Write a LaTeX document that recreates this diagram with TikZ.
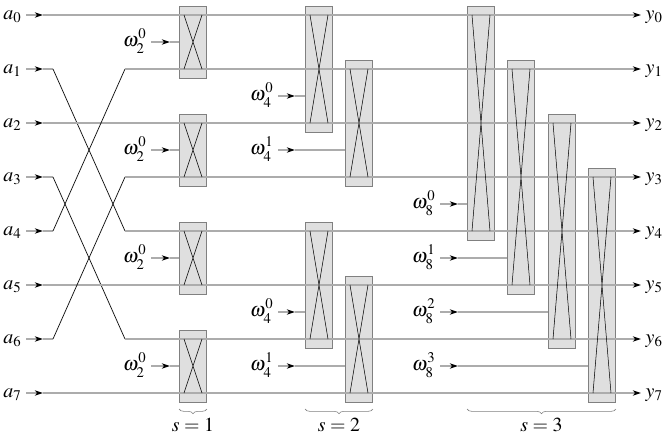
\documentclass[tikz,border=0pt]{standalone}
\usepackage{mathptmx}
\usetikzlibrary{arrows.meta,decorations.pathreplacing,fit}

\tikzset{
  wire/.style={gray!65, line width=0.9pt},
  tip/.style={-{Stealth[black,length=7pt,width=4.5pt,inset=2pt]}},
  bfly/.style={draw=gray, fill=gray!25, line width=0.7pt, inner sep=0pt},
  swap/.style={black, line width=0.45pt},
  perm/.style={black, line width=0.6pt},
  lbl/.style={font=\fontsize{17}{20}\selectfont, inner sep=0pt, outer sep=4pt, text height=8pt, text depth=0pt},
  stage/.style={gray, line width=0.5pt, decorate, decoration={brace, mirror, amplitude=4pt}},
}

% twiddle with a little air between the indices
\newcommand\twid[2]{\omega^{\raisebox{1.2pt}{$\scriptstyle #2$}}_{\raisebox{-1.2pt}{$\scriptstyle #1$}}}

% name / centre x / top row / bottom row
\def\bflylist{b10/193/0/1, b11/193/2/3, b12/193/4/5, b13/193/6/7,
  b20/319/0/2, b21/359/1/3, b22/319/4/6, b23/359/5/7,
  b30/481/0/4, b31/521/1/5, b32/562/2/6, b33/602/3/7}

\begin{document}
\begin{tikzpicture}[x=0.03cm, y=-0.03cm]
\useasboundingbox (0,0) rectangle (669,439);

% rows
\foreach \i in {0,...,7} {
  \pgfmathsetmacro\ry{15+54*\i}
  \coordinate (p\i) at (43,\ry);
  \coordinate (q\i) at (53,\ry);
  \coordinate (u\i) at (125,\ry);
  \node[lbl, anchor=east] (a\i) at (26,\ry) {$a_{\i}$};
  \node[lbl, anchor=west] (y\i) at (641,\ry) {$y_{\i}$};
}

% butterfly boxes
\foreach \n/\cx/\t/\b in \bflylist {
  \pgfmathsetmacro\ty{15+54*\t}
  \pgfmathsetmacro\by{15+54*\b}
  \node[bfly, fit={(\cx-13.5,\ty-9) (\cx+13.5,\by+9)}] (\n) {};
}

% wires, bit reversal in front
\foreach \i/\j in {0/0,1/4,2/2,3/6,4/1,5/5,6/3,7/7} {
  \draw[wire,tip] (a\i) -- (p\i);
  \draw[wire] (p\i) -- (q\i);
  \ifnum\i=\j \draw[wire] (q\i) -- (u\j); \else \draw[perm] (q\i) -- (u\j); \fi
  \draw[wire,tip] (u\j) -- (y\j);
}

% crosses
\foreach \n/\cx/\t/\b in \bflylist {
  \pgfmathsetmacro\ty{15+54*\t}
  \pgfmathsetmacro\by{15+54*\b}
  \draw[swap] (\cx-9,\ty) -- (\cx+9,\by) (\cx+9,\ty) -- (\cx-9,\by);
}

% twiddle factors
\foreach \b/\s/\e/\lx/\ax/\ry in {b10/2/0/151/170/42, b11/2/0/151/170/150, b12/2/0/151/170/258, b13/2/0/151/170/366,
  b20/4/0/278/295/96, b21/4/1/278/295/150, b22/4/0/278/295/312, b23/4/1/278/295/366,
  b30/8/0/440/458/204, b31/8/1/440/458/258, b32/8/2/440/458/312, b33/8/3/440/458/366} {
  \node[lbl, anchor=east] (w\b) at (\lx,\ry) {$\twid{\s}{\e}$};
  \coordinate (t\b) at (\ax,\ry);
  \draw[wire,tip] (w\b) -- (t\b);
  \draw[wire] (t\b) -- (t\b -| \b.west);
}

% stages
\coordinate (brc) at (0,409);
\draw[stage] (b13.west |- brc) -- (b13.east |- brc);
\draw[stage] (b22.west |- brc) -- (b23.east |- brc);
\draw[stage] (b30.west |- brc) -- (b33.east |- brc);
\node[anchor=base, font=\fontsize{17}{20}\selectfont] (s1) at (193,431) {$s=1$};
\node[anchor=base, font=\fontsize{17}{20}\selectfont] (s2) at (339,431) {$s=2$};
\node[anchor=base, font=\fontsize{17}{20}\selectfont] (s3) at (541.5,431) {$s=3$};
\end{tikzpicture}
\end{document}
